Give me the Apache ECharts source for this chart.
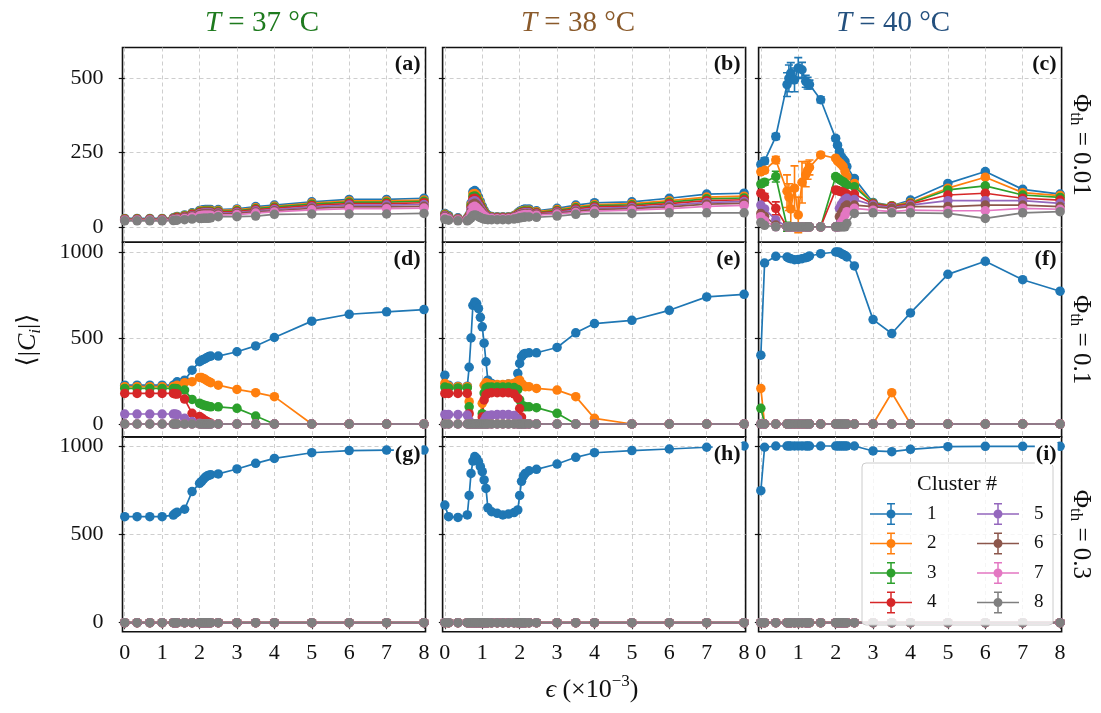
<!DOCTYPE html>
<html>
<head>
<meta charset="utf-8">
<script src="https://cdn.jsdelivr.net/npm/echarts@6/dist/echarts.min.js"></script>
<style>
  html, body { margin: 0; padding: 0; background: #fff; }
  #chart { width: 1101px; height: 713px; }
</style>
</head>
<body>
<div id="chart"></div>
<script>
// ---- strain grids (epsilon, x10^-3) for each temperature ----
const X37 = [0, 0.33, 0.67, 1.0, 1.3, 1.35, 1.4, 1.6, 1.8, 2.0, 2.05, 2.1, 2.15, 2.2, 2.25, 2.3, 2.5, 3, 3.5, 4, 5, 6, 7, 8];
const X38 = [0, 0.1, 0.35, 0.6, 0.65, 0.7, 0.75, 0.8, 0.85, 0.9, 0.95, 1.0, 1.05, 1.1, 1.15, 1.25, 1.4, 1.55, 1.7, 1.85, 1.95, 2.0, 2.05, 2.1, 2.15, 2.25, 2.45, 3, 3.5, 4, 5, 6, 7, 8];
const X40 = [0, 0.1, 0.4, 0.7, 0.75, 0.8, 0.9, 1.0, 1.1, 1.2, 1.25, 1.3, 1.6, 2.0, 2.05, 2.1, 2.15, 2.2, 2.25, 2.3, 2.5, 3, 3.5, 4, 5, 6, 7, 8];

// ---- tick labels ----
const X_TICKS = [0, 1, 2, 3, 4, 5, 6, 7, 8];
const Y_TICKS = [[0, 250, 500], [0, 500, 1000], [0, 500, 1000]];

const CLUSTERS = ['1', '2', '3', '4', '5', '6', '7', '8'];
const TEMPS = ['37', '38', '40'];
const PHI = ['0.01', '0.1', '0.3'];
const TAGS = ['(a)', '(b)', '(c)', '(d)', '(e)', '(f)', '(g)', '(h)', '(i)'];

const Z24 = [0,0,0,0,0,0,0,0,0,0,0,0,0,0,0,0,0,0,0,0,0,0,0,0];
const Z28 = [0,0,0,0,0,0,0,0,0,0,0,0,0,0,0,0,0,0,0,0,0,0,0,0,0,0,0,0];
const Z34 = [0,0,0,0,0,0,0,0,0,0,0,0,0,0,0,0,0,0,0,0,0,0,0,0,0,0,0,0,0,0,0,0,0,0];

// ---- mean cluster sizes <|C_i|>, clusters 1..8 ----
// T = 37 C, Phi_th = 0.01
const SIZES_37_P001 = [
  [28,28,28,28,30,32,35,40,47,55,56,57,58,58,58,58,58,60,68,73,84,92,92,96],
  [27,27,27,27,29,31,33,38,45,52,53,54,55,55,55,55,55,57,64,69,80,87,87,90],
  [26,26,26,26,28,30,32,36,43,50,51,52,52,52,52,52,52,54,61,66,76,83,83,86],
  [25,25,25,25,27,29,30,34,41,47,48,49,49,49,49,49,49,51,58,62,72,78,78,81],
  [24,24,24,24,26,27,28,32,38,44,45,46,46,46,46,46,46,48,54,58,67,73,73,75],
  [23,23,23,23,25,26,27,30,36,41,42,43,43,43,43,43,43,45,50,54,62,67,67,69],
  [22,22,22,22,23,24,25,28,33,37,38,39,39,39,39,39,39,41,46,50,57,61,61,63],
  [20,20,20,20,21,22,22,24,26,28,28,29,29,29,29,30,34,34,36,42,43,43,43,45]
];
// T = 38 C, Phi_th = 0.01
const SIZES_38_P001 = [
  [45,38,30,30,40,80,118,122,115,100,85,70,56,45,39,35,34,34,34,38,47,52,55,58,60,60,54,62,73,81,84,96,110,113],
  [42,35,28,28,38,75,110,112,106,92,78,64,52,42,37,33,32,32,32,36,44,49,52,54,56,56,51,58,68,75,78,88,100,103],
  [40,33,27,27,36,70,102,104,98,85,72,60,49,40,35,32,31,31,31,35,42,47,50,52,53,53,48,55,64,71,74,83,94,97],
  [38,31,26,26,34,64,94,96,90,78,67,56,46,38,33,31,30,30,30,33,40,44,47,49,50,50,46,52,60,67,70,78,88,91],
  [36,30,25,25,32,58,85,88,82,72,62,52,43,36,32,30,29,29,29,32,38,42,44,46,47,47,43,49,56,62,65,72,82,85],
  [34,28,24,24,30,52,76,79,74,65,56,48,40,34,30,29,28,28,28,31,36,40,42,43,44,44,41,46,52,58,61,67,76,79],
  [31,26,23,23,28,46,66,69,64,57,50,43,37,32,29,28,27,27,27,30,34,37,39,40,41,41,39,43,48,53,56,61,69,72],
  [25,22,20,20,24,30,38,40,38,34,31,28,26,25,24,24,24,24,24,26,28,30,31,32,33,33,32,36,42,45,45,47,47,47]
];
// T = 40 C, Phi_th = 0.01
const SIZES_40_P001 = [
  [210,222,304,479,500,518,495,535,529,490,484,479,428,298,275,253,236,228,220,203,163,82,71,90,146,186,126,110],
  [185,190,225,120,100,60,130,40,150,175,190,200,242,231,222,216,210,203,186,169,146,79,71,82,130,167,115,105],
  [144,150,169,0,0,0,0,0,0,0,0,0,0,169,164,160,155,152,146,141,135,79,70,79,124,138,107,99],
  [113,100,62,0,0,0,0,0,0,0,0,0,0,124,122,120,118,116,113,110,110,77,68,77,107,113,96,90],
  [73,60,23,0,0,0,0,0,0,0,0,0,0,0,0,62,75,84,92,96,92,73,65,73,88,88,88,79],
  [45,35,6,0,0,0,0,0,0,0,0,0,0,0,0,34,45,56,68,73,73,68,62,68,68,73,73,68],
  [34,20,0,0,0,0,0,0,0,0,0,0,0,0,0,0,15,23,39,51,62,56,51,56,54,54,62,59],
  [14,5,0,0,0,0,0,0,0,0,0,0,0,0,0,0,0,0,0,11,45,47,47,47,45,28,47,51]
];
// standard deviations for clusters 1..4 at T = 40 C, Phi_th = 0.01
const ERR_40_P001 = [
  [10,10,10,40,45,35,40,35,25,20,20,15,10,8,6,6,6,6,6,6,5,5,5,5,5,5,5,5],
  [8,8,12,55,45,70,75,60,70,40,30,25,8,6,6,6,6,6,6,6,5,5,5,5,5,5,5,5],
  [10,10,18,15,0,0,0,0,0,0,0,0,0,8,6,6,6,6,6,6,5,5,5,5,5,5,5,5],
  [10,12,22,0,0,0,0,0,0,0,0,0,0,8,6,6,6,6,6,6,5,5,5,5,5,5,5,5]
];
// T = 37 C, Phi_th = 0.1
const SIZES_37_P01 = [
  [226,226,226,226,226,230,245,255,313,362,370,375,380,387,392,395,395,420,454,503,598,638,652,665],
  [217,217,217,217,217,220,225,240,246,271,270,265,260,252,246,240,226,201,182,159,0,0,0,0],
  [207,207,207,207,207,207,205,197,143,120,115,110,107,104,102,100,100,91,46,0,0,0,0,0],
  [178,178,178,178,178,175,174,145,62,43,35,27,20,14,8,4,0,0,0,0,0,0,0,0],
  [58,58,58,58,58,58,55,33,14,5,0,0,0,0,0,0,0,0,0,0,0,0,0,0],
  Z24, Z24, Z24
];
// T = 38 C, Phi_th = 0.1
const SIZES_38_P01 = [
  [284,226,220,220,330,500,690,710,700,671,620,565,470,362,255,236,226,226,232,236,294,352,391,405,410,414,414,445,530,584,603,661,739,754],
  [236,220,217,217,130,0,0,0,0,0,0,120,225,240,236,230,230,230,232,236,250,255,235,225,217,217,207,197,159,33,0,0,0,0],
  [215,210,210,210,100,0,0,0,0,0,0,60,180,210,215,215,215,215,215,212,200,140,110,105,100,100,95,62,0,0,0,0,0,0],
  [178,178,178,178,60,0,0,0,0,0,0,40,140,170,178,182,182,182,182,175,150,90,40,0,0,0,0,0,0,0,0,0,0,0],
  [55,55,55,52,20,0,0,0,0,0,0,0,20,40,50,52,55,55,55,50,30,0,0,0,0,0,0,0,0,0,0,0,0,0],
  Z34, Z34, Z34
];
// T = 40 C, Phi_th = 0.1
const SIZES_40_P01 = [
  [400,936,975,971,965,961,955,957,961,967,970,977,990,1000,1000,998,990,985,980,971,919,607,526,646,870,946,839,772],
  [207,0,0,0,0,0,0,0,0,0,0,0,0,0,0,0,0,0,0,0,0,0,182,0,0,0,0,0],
  [91,0,0,0,0,0,0,0,0,0,0,0,0,0,0,0,0,0,0,0,0,0,0,0,0,0,0,0],
  Z28, Z28, Z28, Z28, Z28
];
// T = 37 C, Phi_th = 0.3
const SIZES_37_P03 = [
  [600,600,600,600,609,619,625,642,742,789,798,811,823,830,835,838,842,870,902,930,962,974,977,977],
  Z24, Z24, Z24, Z24, Z24, Z24, Z24
];
// T = 38 C, Phi_th = 0.3
const SIZES_38_P03 = [
  [666,600,596,610,720,845,915,940,930,911,883,855,808,760,650,628,619,610,615,623,638,720,800,830,845,860,868,898,936,962,974,983,993,1000],
  Z34, Z34, Z34, Z34, Z34, Z34, Z34
];
// T = 40 C, Phi_th = 0.3
const SIZES_40_P03 = [
  [747,993,1000,1000,1000,1000,1000,1000,1000,1000,1000,1000,1000,1000,1000,1000,1000,1000,1000,1000,1000,972,968,981,996,998,998,998],
  Z28, Z28, Z28, Z28, Z28, Z28, Z28
];

// ---- styling and layout ----
const COLORS = ['#1f77b4', '#ff7f0e', '#2ca02c', '#d62728', '#9467bd', '#8c564b', '#e377c2', '#7f7f7f'];
const TEMP_COLORS = ['#1e7a1e', '#8a5a2b', '#24507e'];
const SERIF = '"Liberation Serif","DejaVu Serif",serif';

const COL_LEFT = [122.5, 442.6, 758.6];
const COL_W = 303;
const ROW_TOP = [47.5, 242.2, 437];
const ROW_H = 194.7;
const X_LIM = [-0.06, 8.04];
const Y_LIM = [[-52, 604], [-75, 1057], [-51, 1051]];

const PANELS = [
  { x: X37, sizes: SIZES_37_P001 }, { x: X38, sizes: SIZES_38_P001 }, { x: X40, sizes: SIZES_40_P001, err: ERR_40_P001 },
  { x: X37, sizes: SIZES_37_P01 },  { x: X38, sizes: SIZES_38_P01 },  { x: X40, sizes: SIZES_40_P01 },
  { x: X37, sizes: SIZES_37_P03 },  { x: X38, sizes: SIZES_38_P03 },  { x: X40, sizes: SIZES_40_P03 }
];

// legend glyph: line, error bar with caps, and a round marker
const ERRBAR_ICON = 'path://M0,10.25H42V11.75H0Z M20.25,0H21.75V22H20.25Z M17,0H25V1.5H17Z M17,20.5H25V22H17Z M16.5,11A4.5,4.5,0,1,1,25.5,11A4.5,4.5,0,1,1,16.5,11Z';

function errorBarRenderer(color) {
  return function (params, api) {
    const x = api.value(0);
    const lo = api.coord([x, api.value(1)]);
    const hi = api.coord([x, api.value(2)]);
    const w = 4;
    const st = { stroke: color, lineWidth: 1.6 };
    return {
      type: 'group',
      children: [
        { type: 'line', shape: { x1: lo[0], y1: lo[1], x2: hi[0], y2: hi[1] }, style: st },
        { type: 'line', shape: { x1: lo[0] - w, y1: lo[1], x2: lo[0] + w, y2: lo[1] }, style: st },
        { type: 'line', shape: { x1: hi[0] - w, y1: hi[1], x2: hi[0] + w, y2: hi[1] }, style: st }
      ]
    };
  };
}

function plainNumber(v) { return String(v); }

const grids = [], xAxes = [], yAxes = [], series = [], graphics = [];

PANELS.forEach(function (p, gi) {
  const r = Math.floor(gi / 3), c = gi % 3;
  grids.push({
    left: COL_LEFT[c], top: ROW_TOP[r], width: COL_W, height: ROW_H,
    show: true, borderColor: '#111', borderWidth: 1.6, backgroundColor: 'rgba(0,0,0,0)'
  });
  xAxes.push({
    type: 'value', gridIndex: gi, min: X_LIM[0], max: X_LIM[1],
    axisLine: { show: false },
    axisTick: { show: r === 2, customValues: X_TICKS, length: 6, lineStyle: { color: '#111', width: 1.2 } },
    axisLabel: { show: r === 2, customValues: X_TICKS, formatter: plainNumber, margin: 11, fontSize: 22, color: '#111', fontFamily: SERIF },
    splitLine: { show: true, lineStyle: { color: '#c8c8c8', width: 0.9, type: [4, 3] } }
  });
  yAxes.push({
    type: 'value', gridIndex: gi, min: Y_LIM[r][0], max: Y_LIM[r][1],
    axisLine: { show: false },
    axisTick: { show: true, customValues: Y_TICKS[r], length: 6, lineStyle: { color: '#111', width: 1.2 } },
    axisLabel: { show: c === 0, customValues: Y_TICKS[r], formatter: plainNumber, margin: 19, fontSize: 22, color: '#111', fontFamily: SERIF },
    splitLine: { show: true, lineStyle: { color: '#c8c8c8', width: 0.9, type: [4, 3] } }
  });

  p.sizes.forEach(function (vals, k) {
    if (p.err && p.err[k]) {
      const errData = [];
      p.x.forEach(function (xv, i) {
        const e = p.err[k][i];
        if (e > 0) errData.push([xv, vals[i] - e, vals[i] + e]);
      });
      series.push({
        type: 'custom', xAxisIndex: gi, yAxisIndex: gi, data: errData,
        encode: { x: 0, y: [1, 2] }, clip: true, silent: true,
        renderItem: errorBarRenderer(COLORS[k])
      });
    }
    series.push({
      type: 'line', name: CLUSTERS[k], xAxisIndex: gi, yAxisIndex: gi,
      data: p.x.map(function (xv, i) { return [xv, vals[i]]; }),
      symbol: 'circle', symbolSize: 9.5, showAllSymbol: true, clip: true,
      itemStyle: { color: COLORS[k] },
      lineStyle: { color: COLORS[k], width: 1.7 },
      emphasis: { disabled: true }
    });
  });

  // panel tag in the top-right corner
  graphics.push({
    type: 'text', z: 30,
    x: COL_LEFT[c] + COL_W - 4, y: ROW_TOP[r] + 17,
    style: {
      text: TAGS[gi], fontFamily: SERIF, fontWeight: 'bold', fontSize: 22, fill: '#111',
      align: 'right', verticalAlign: 'middle', backgroundColor: '#fff', padding: [0, 1]
    }
  });
});

// column titles
TEMPS.forEach(function (t, c) {
  const centers = [262, 578, 893];
  graphics.push({
    type: 'text', x: centers[c], y: 23,
    style: {
      text: '{i|T} = ' + t + ' °C',
      rich: { i: { fontStyle: 'italic', fontSize: 29, fontFamily: SERIF, fill: TEMP_COLORS[c] } },
      fontSize: 29, fontFamily: SERIF, fill: TEMP_COLORS[c], align: 'center', verticalAlign: 'middle'
    }
  });
});

// row labels on the right
PHI.forEach(function (v, r) {
  graphics.push({
    type: 'text', x: 1081, y: ROW_TOP[r] + ROW_H / 2, rotation: -Math.PI / 2,
    style: {
      text: '{n|Φ}{s|th}{n| = ' + v + '}',
      rich: {
        n: { fontSize: 25, fontFamily: SERIF, fill: '#111', lineHeight: 29, verticalAlign: 'middle' },
        s: { fontSize: 17, fontFamily: SERIF, fill: '#111', lineHeight: 29, verticalAlign: 'bottom' }
      },
      align: 'center', verticalAlign: 'middle'
    }
  });
});

// y-axis label
graphics.push({
  type: 'text', x: 28, y: 340, rotation: Math.PI / 2,
  style: {
    text: '{n|⟨|}{c|C}{s|i}{n||⟩}',
    rich: {
      n: { fontSize: 26, fontFamily: SERIF, fill: '#111', lineHeight: 32, verticalAlign: 'middle' },
      c: { fontSize: 26, fontFamily: SERIF, fontStyle: 'italic', fill: '#111', lineHeight: 32, verticalAlign: 'middle' },
      s: { fontSize: 17, fontFamily: SERIF, fontStyle: 'italic', fill: '#111', lineHeight: 32, verticalAlign: 'bottom' }
    },
    align: 'center', verticalAlign: 'middle'
  }
});

// x-axis label
graphics.push({
  type: 'text', x: 592, y: 690,
  style: {
    text: '{e|ϵ}{n| (×10}{p|−3}{n|)}',
    rich: {
      e: { fontSize: 26, fontFamily: SERIF, fontStyle: 'italic', fill: '#111', lineHeight: 34, verticalAlign: 'middle' },
      n: { fontSize: 26, fontFamily: SERIF, fill: '#111', lineHeight: 34, verticalAlign: 'middle' },
      p: { fontSize: 17, fontFamily: SERIF, fill: '#111', lineHeight: 34, verticalAlign: 'top' }
    },
    align: 'center', verticalAlign: 'middle'
  }
});

// legend frame and title
graphics.push({
  type: 'rect', z: 20,
  shape: { x: 862, y: 463, width: 191, height: 162, r: 4 },
  style: { fill: 'rgba(255,255,255,0.8)', stroke: '#cccccc', lineWidth: 1 }
});
graphics.push({
  type: 'text', z: 21, x: 957, y: 484,
  style: { text: 'Cluster #', fontFamily: SERIF, fontSize: 22, fill: '#111', align: 'center', verticalAlign: 'middle' }
});

const legendBase = {
  orient: 'vertical', top: 503, padding: 0,
  itemWidth: 42, itemHeight: 22, itemGap: 7.5,
  icon: ERRBAR_ICON, selectedMode: false, z: 40,
  textStyle: { fontSize: 19, fontFamily: SERIF, color: '#111', padding: [0, 0, 0, 10] }
};

const option = {
  animation: false,
  backgroundColor: '#fff',
  textStyle: { fontFamily: SERIF },
  grid: grids,
  xAxis: xAxes,
  yAxis: yAxes,
  legend: [
    Object.assign({}, legendBase, { left: 870, data: CLUSTERS.slice(0, 4) }),
    Object.assign({}, legendBase, { left: 977, data: CLUSTERS.slice(4, 8) })
  ],
  graphic: { elements: graphics },
  series: series
};

const chart = echarts.init(document.getElementById('chart'));
chart.setOption(option);
</script>
</body>
</html>
